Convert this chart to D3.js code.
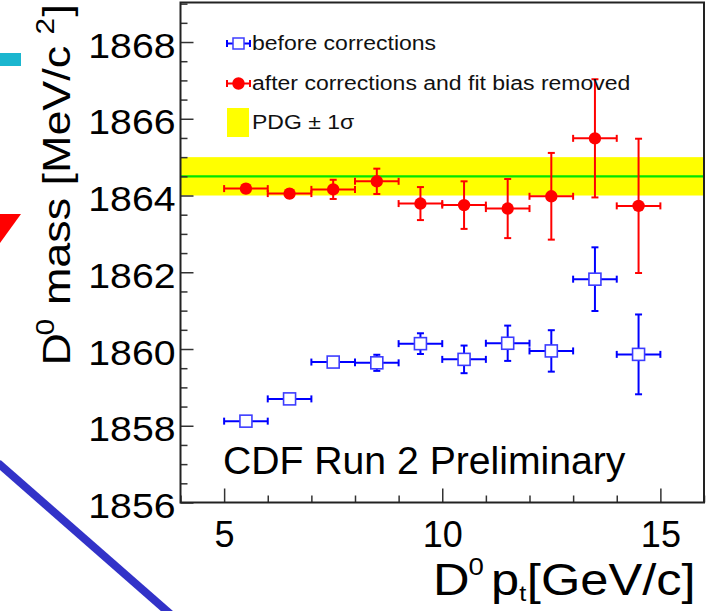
<!DOCTYPE html>
<html>
<head>
<meta charset="utf-8">
<script src="https://cdn.jsdelivr.net/npm/d3@7"></script>
<style>
  body { margin: 0; background: #fff; }
  svg { display: block; font-family: "Liberation Sans", Arial, Helvetica, sans-serif; }
</style>
</head>
<body>
<div id="chart-container"></div>
<script>
// D0 pt bins [GeV/c], centre and half width
const ptBins = [5.5, 6.5, 7.5, 8.5, 9.5, 10.5, 11.5, 12.5, 13.5, 14.5];
const ptHalf = [0.5, 0.5, 0.5, 0.5, 0.5, 0.5, 0.5, 0.5, 0.5, 0.5];

// fitted D0 mass [MeV/c^2] before corrections
const massBefore = [1858.12, 1858.70, 1859.66, 1859.64, 1860.14, 1859.73, 1860.15, 1859.95, 1861.82, 1859.86];
const errBefore  = [0.08, 0.08, 0.08, 0.21, 0.27, 0.36, 0.46, 0.54, 0.83, 1.04];

// after corrections and fit bias removed
const massAfter = [1864.18, 1864.05, 1864.16, 1864.37, 1863.79, 1863.75, 1863.66, 1863.98, 1865.49, 1863.73];
const errAfter  = [0.10, 0.10, 0.25, 0.33, 0.43, 0.62, 0.77, 1.13, 1.54, 1.75];

// PDG value and 1 sigma
const pdgMass = 1864.5;
const pdgSigma = 0.5;

const yMajorTicks = [1856, 1858, 1860, 1862, 1864, 1866, 1868];
const xMajorTicks = [5, 10, 15];
const legendLabels = ["before corrections", "after corrections and fit bias removed", "PDG \u00b1 1\u03c3"];

const blue = "#0000ff", red = "#ff0000";

// stretch a text a bit wider, the original font runs wider than Arial
function widen(sel, k) {
    sel.each(function() {
        const w = this.getComputedTextLength();
        d3.select(this).attr("textLength", w * k).attr("lengthAdjust", "spacingAndGlyphs");
    });
}

function initMassPlot() {
    const svgContainer = d3.select("#chart-container");

    // Set dimensions and margins
    const margin = {top: 2.5, right: 6, bottom: 108.5, left: 180.5},
          width = 710 - margin.left - margin.right,
          height = 611 - margin.top - margin.bottom;

    const svg = svgContainer.append("svg")
        .attr("width", 710)
        .attr("height", 611);

    // leftovers of the slide around the plot
    svg.append("rect").attr("x", 0).attr("y", 53).attr("width", 21).attr("height", 13).attr("fill", "#1bb6cf");
    svg.append("path").attr("d", "M0,214L21,214L0,243Z").attr("fill", "#ff0000");
    svg.append("line").attr("x1", -2).attr("y1", 463).attr("x2", 200).attr("y2", 640)
        .attr("stroke", "#3232c8").attr("stroke-width", 8);

    const plot = svg.append("g")
        .attr("transform", `translate(${margin.left}, ${margin.top})`);

    // Create scales
    const x = d3.scaleLinear().domain([4, 16]).range([0, width]);
    const y = d3.scaleLinear().domain([1856, 1869.03]).range([height, 0]);

    // PDG band and central value
    plot.append("rect")
        .attr("x", 0)
        .attr("width", width)
        .attr("y", y(pdgMass + pdgSigma))
        .attr("height", y(pdgMass - pdgSigma) - y(pdgMass + pdgSigma))
        .attr("fill", "#ffff00");
    plot.append("line")
        .attr("x1", 0).attr("x2", width)
        .attr("y1", y(pdgMass)).attr("y2", y(pdgMass))
        .attr("stroke", "#00e600")
        .attr("stroke-width", 2.2);

    // Y axis, ticks point inside
    const yMinor = d3.range(1856, 1869.01, 0.5).filter(v => !yMajorTicks.includes(v));
    const yMin = plot.append("g").call(d3.axisLeft(y).tickValues(yMinor).tickSize(-7).tickFormat(() => ""));
    const yAxis = plot.append("g")
        .call(d3.axisLeft(y).tickValues(yMajorTicks).tickSize(-13).tickPadding(5).tickFormat(d3.format("d")));

    // X axis
    const xMinor = d3.range(4, 16.01, 1).filter(v => !xMajorTicks.includes(v));
    const xMin = plot.append("g").attr("transform", `translate(0, ${height})`)
        .call(d3.axisBottom(x).tickValues(xMinor).tickSize(-7).tickFormat(() => ""));
    const xAxis = plot.append("g").attr("transform", `translate(0, ${height})`)
        .call(d3.axisBottom(x).tickValues(xMajorTicks).tickSize(-14).tickFormat(d3.format("d")));

    [yMin, yAxis, xMin, xAxis].forEach(a => {
        a.attr("font-family", null).attr("font-size", null);
        a.select(".domain").remove();
        a.selectAll("line").attr("stroke", "#333").attr("stroke-width", 1.5);
    });
    yAxis.selectAll("text")
        .attr("dy", null).attr("y", 15)
        .attr("font-size", 35).attr("fill", "#000")
        .call(widen, 1.12);
    xAxis.selectAll("text")
        .attr("dy", null).attr("y", 44)
        .attr("font-size", 36).attr("fill", "#000");

    // error bars with end caps
    function drawSeries(vals, errs, color) {
        const pts = ptBins.map((p, i) => ({p: p, w: ptHalf[i], m: vals[i], e: errs[i]}));
        const g = plot.append("g").attr("stroke", color).attr("stroke-width", 2);
        const bar = g.selectAll("g").data(pts).enter().append("g");
        bar.append("line")
            .attr("x1", d => x(d.p - d.w)).attr("x2", d => x(d.p + d.w))
            .attr("y1", d => y(d.m)).attr("y2", d => y(d.m));
        bar.append("line")
            .attr("x1", d => x(d.p)).attr("x2", d => x(d.p))
            .attr("y1", d => y(d.m - d.e)).attr("y2", d => y(d.m + d.e));
        [-1, 1].forEach(s => {
            bar.append("line")
                .attr("x1", d => x(d.p + s * d.w)).attr("x2", d => x(d.p + s * d.w))
                .attr("y1", d => y(d.m) - 3.5).attr("y2", d => y(d.m) + 3.5);
            bar.append("line")
                .attr("x1", d => x(d.p) - 3.5).attr("x2", d => x(d.p) + 3.5)
                .attr("y1", d => y(d.m + s * d.e)).attr("y2", d => y(d.m + s * d.e));
        });
        return pts;
    }

    const ptsBefore = drawSeries(massBefore, errBefore, blue);
    plot.append("g").selectAll("rect")
        .data(ptsBefore).enter().append("rect")
        .attr("x", d => x(d.p) - 6).attr("y", d => y(d.m) - 6)
        .attr("width", 12).attr("height", 12)
        .attr("fill", "#fff").attr("stroke", "#3c3cff").attr("stroke-width", 1.6);

    const ptsAfter = drawSeries(massAfter, errAfter, red);
    plot.append("g").selectAll("circle")
        .data(ptsAfter).enter().append("circle")
        .attr("cx", d => x(d.p)).attr("cy", d => y(d.m))
        .attr("r", 6.2)
        .attr("fill", red);

    // frame on top
    plot.append("rect")
        .attr("width", width).attr("height", height)
        .attr("fill", "none").attr("stroke", "#222").attr("stroke-width", 2);

    // Legend
    const legend = svg.append("g").attr("font-size", 20);
    const rowY = [43.5, 83.5, 122.5];
    [0, 1].forEach(i => {
        const col = i === 0 ? blue : red;
        legend.append("line").attr("x1", 227).attr("x2", 250).attr("y1", rowY[i]).attr("y2", rowY[i])
            .attr("stroke", col).attr("stroke-width", 2);
        [227, 250].forEach(cx => legend.append("line")
            .attr("x1", cx).attr("x2", cx).attr("y1", rowY[i] - 3.5).attr("y2", rowY[i] + 3.5)
            .attr("stroke", col).attr("stroke-width", 2));
    });
    legend.append("rect").attr("x", 233).attr("y", rowY[0] - 5.5).attr("width", 11).attr("height", 11)
        .attr("fill", "#fff").attr("stroke", "#3c3cff").attr("stroke-width", 1.5);
    legend.append("circle").attr("cx", 238.5).attr("cy", rowY[1]).attr("r", 6.2).attr("fill", red);
    legend.append("rect").attr("x", 227).attr("y", 108).attr("width", 22).attr("height", 29).attr("fill", "#ffff00");
    legend.selectAll("text.lab")
        .data(legendLabels).enter().append("text")
        .attr("class", "lab")
        .attr("x", 252)
        .attr("y", (d, i) => rowY[i] + 6)
        .attr("fill", "#111")
        .text(d => d)
        .call(widen, 1.15);

    // Run label
    svg.append("text")
        .attr("x", 223).attr("y", 474)
        .attr("font-size", 38)
        .attr("fill", "#000")
        .text("CDF Run 2 Preliminary")
        .call(widen, 1.03);

    // X-axis title
    const xt = svg.append("g").attr("transform", "translate(433, 595) scale(1.15, 1)")
        .append("text").attr("font-size", 44).attr("fill", "#000");
    xt.append("tspan").text("D");
    xt.append("tspan").attr("font-size", 24).attr("dx", -1).attr("dy", -20).text("0");
    xt.append("tspan").attr("dx", 6.3).attr("dy", 20).text("p");
    xt.append("tspan").attr("font-size", 22).attr("dy", 6).text("t");
    xt.append("tspan").attr("dx", 0.6).attr("dy", -6).text("[GeV/c]");

    // Y-axis title
    const yt = svg.append("g").attr("transform", "translate(70, 365.5) rotate(-90) scale(1.15, 1)")
        .append("text").attr("font-size", 39).attr("fill", "#000");
    yt.append("tspan").text("D");
    yt.append("tspan").attr("font-size", 26).attr("dx", -2).attr("dy", -16).text("0");
    yt.append("tspan").attr("dx", 12).attr("dy", 16).text("mass [MeV/c");
    yt.append("tspan").attr("font-size", 26).attr("dx", 10).attr("dy", -16).text("2");
    yt.append("tspan").attr("dx", 1).attr("dy", 16).text("]");
}

initMassPlot();
</script>
</body>
</html>
